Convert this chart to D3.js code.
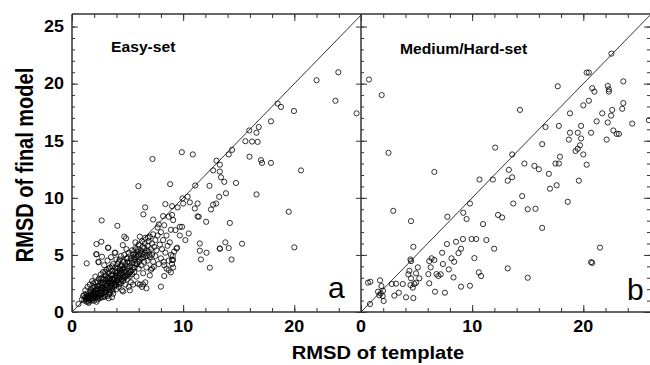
<!DOCTYPE html>
<html>
<head>
<meta charset="utf-8">
<script src="https://cdn.jsdelivr.net/npm/d3@7"></script>
<style>
  body { margin: 0; background: #fff; }
  svg { display: block; }
  text { font-family: "Liberation Sans", Arial, sans-serif; fill: #000; }
</style>
</head>
<body>
<svg id="chart" width="650" height="365"></svg>
<script>
"use strict";

// tick labels
const xTickLabels = [0, 10, 20];
const yTickLabels = [0, 5, 10, 15, 20, 25];
const panelTitles = ["Easy-set", "Medium/Hard-set"];
const panelLetters = ["a", "b"];

// [RMSD of template, RMSD of final model]
const easySet = [
  // dense cluster near the origin
  [0.58,0.7],[0.9,1.1],[1.0,1.4],[1.1,1.0],[1.1,1.5],[1.2,1.3],[1.2,1.9],[1.3,0.9],[1.3,1.6],[1.3,1.2],
  [1.4,1.2],[1.4,2.2],[1.5,1.4],[1.5,0.9],[1.5,0.8],[1.6,1.7],[1.6,1.1],[1.6,2.4],[1.7,1.3],[1.7,2.0],
  [1.8,1.5],[1.8,1.0],[1.8,2.7],[1.9,1.8],[1.9,1.2],[1.9,2.5],[2.0,1.4],[2.0,2.2],[2.0,1.0],[2.1,1.6],
  [2.1,2.6],[2.1,3.1],[2.2,1.3],[2.2,1.9],[2.2,0.9],[2.3,1.1],[2.3,2.3],[2.3,1.6],[2.4,1.4],[2.4,2.0],
  [2.4,2.9],[2.5,1.2],[2.5,1.7],
  [1.25,1.1],[1.35,1.4],[1.45,1.0],[1.55,1.25],[1.65,1.5],[1.75,1.15],[1.85,1.35],[1.95,1.6],[2.05,1.2],
  [2.15,1.45],[2.25,1.7],[2.35,1.25],[2.45,1.55],[2.55,1.9],[2.65,1.3],[2.75,1.65],[2.85,2.0],[2.95,1.35],
  [1.7,1.8],[1.9,2.1],[2.1,1.9],[2.2,2.05],[2.3,2.6],[2.5,2.35],
  [2.6,2.1],[2.6,2.6],[2.6,1.5],[2.6,3.3],[2.7,3.0],[2.7,1.9],[2.7,2.4],[2.8,1.3],[2.8,2.8],[2.8,3.5],
  [2.9,2.2],[2.9,1.7],[2.9,2.9],[2.9,4.1],[3.0,2.5],[3.0,3.2],[3.0,1.5],[3.0,2.0],[3.1,2.8],[3.1,3.7],
  [3.1,1.8],[3.2,2.3],[3.2,3.0],[3.2,1.4],[3.2,4.5],[3.3,2.6],[3.3,3.4],[3.3,2.0],[3.3,1.2],[3.4,2.9],
  [3.4,1.7],[3.4,3.9],[3.5,2.3],[3.5,3.2],[3.5,2.7],[3.5,1.9],[3.5,4.8],[3.6,3.6],[3.6,2.1],[3.6,2.9],
  [3.6,1.3],[3.7,2.5],[3.7,3.3],[3.7,4.2],[3.7,1.6],[3.8,2.8],[3.8,3.0],[3.8,2.2],[3.9,3.6],[3.9,2.6],
  [3.9,3.9],[4.0,3.1],[4.0,2.4],[4.0,2.0],[4.0,4.6],
  [2.6,2.9],[2.7,2.15],[2.8,2.55],[3.0,3.5],[3.05,1.75],[3.1,2.35],[3.15,2.1],[3.2,2.7],[3.25,2.5],
  [3.3,3.8],[3.35,1.55],[3.4,2.55],[3.45,2.15],[3.55,2.45],[3.6,3.2],[3.6,4.0],[3.65,1.85],[3.7,2.9],
  [3.75,2.75],[3.85,2.35],[3.95,3.2],[4.0,3.4],
  [4.1,2.8],[4.1,3.5],[4.1,4.2],[4.2,2.2],[4.2,3.2],[4.2,2.6],[4.3,3.8],[4.3,3.0],[4.3,4.6],[4.4,2.5],
  [4.4,3.4],[4.4,4.0],[4.4,4.9],[4.5,2.9],[4.5,3.7],[4.5,1.9],[4.6,3.2],[4.6,4.4],[4.6,2.7],[4.6,1.8],
  [4.7,3.9],[4.7,3.0],[4.7,5.0],[4.8,3.5],[4.8,2.4],[4.8,4.2],[4.9,3.2],[4.9,4.7],[4.9,5.5],[5.0,3.8],
  [5.0,2.9],[5.0,4.4],[5.1,3.4],[5.1,5.2],[5.1,2.2],[5.2,4.0],[5.2,3.1],[5.2,1.9],[5.3,4.7],[5.3,3.6],
  [5.3,2.6],[5.4,4.3],[5.4,5.4],[5.4,3.3],[5.5,3.9],[5.5,2.4],
  [4.05,2.7],[4.1,3.8],[4.15,3.0],[4.2,4.4],[4.25,2.45],[4.3,3.6],[4.35,3.3],[4.45,2.75],[4.5,4.1],
  [4.55,3.5],[4.6,3.8],[4.65,3.0],[4.75,3.7],[4.85,3.1],[4.95,4.0],[5.0,4.7],[5.05,3.3],[5.15,4.3],
  [5.25,3.5],[5.35,4.5],[5.45,3.7],[5.5,5.0],
  [5.6,4.6],[5.6,5.1],[5.6,3.5],[5.7,4.2],[5.7,5.6],[5.7,6.1],[5.8,4.8],[5.8,3.1],[5.9,5.3],[5.9,4.4],
  [5.9,2.5],[6.0,5.0],[6.0,3.8],[6.0,5.9],[6.1,4.6],[6.1,2.4],[6.1,6.6],[6.2,5.4],[6.2,4.1],[6.3,5.1],
  [6.3,6.2],[6.3,2.2],[6.4,4.8],[6.4,3.4],[6.5,5.6],[6.5,4.4],[6.6,5.2],[6.6,6.5],[6.6,2.6],[6.7,4.9],
  [6.7,3.9],[6.8,5.8],[6.8,4.5],[6.9,6.2],[6.9,5.3],[7.0,4.8],[7.0,6.6],[7.0,3.2],[7.1,5.5],[7.1,3.7],
  [7.2,6.0],[7.2,5.0],[7.3,6.8],[7.3,4.4],[7.4,5.7],[7.5,6.3],[7.5,4.9],
  [5.55,4.8],[5.65,3.9],[5.75,5.0],[5.85,4.2],[5.95,5.5],[6.05,4.4],[6.15,5.2],[6.25,4.7],[6.35,5.7],
  [6.45,5.0],[6.55,6.0],[6.75,5.4],[6.85,6.5],[6.95,5.0],
  [7.6,5.4],[7.7,6.7],[7.7,7.4],[7.8,4.2],[7.9,5.9],[8.0,7.0],[8.0,4.7],[8.1,5.5],[8.2,6.3],[8.3,4.1],
  [8.3,7.6],[8.4,5.2],[8.5,6.7],[8.5,3.8],[8.6,5.8],[8.7,4.5],[8.8,6.1],[8.9,5.0],[8.9,7.2],[9.0,4.2],
  [9.1,3.9],[9.2,5.3],
  // above the diagonal, low range
  [1.32,4.26],[2.37,4.4],[2.4,4.35],[2.2,5.07],[2.19,5.05],[2.7,4.84],[2.2,5.95],[2.64,6.15],[3.27,5.63],
  [3.24,5.63],[3.9,5.19],[3.84,5.19],[4.57,5.86],[4.7,6.6],[4.86,6.45],[2.67,8.02],[4.08,7.55],
  [6.58,9.16],[6.42,8.55],[5.97,11.02],[7.24,13.4],
  // spread-out points
  [6.4,2.42],[6.7,2.07],[7.2,3.82],[7.36,3.96],[8.0,2.22],[8.3,3.15],[8.26,4.4],[8.7,3.67],[8.9,3.47],
  [9.0,4.55],[9.07,4.9],[9.1,4.55],[9.4,5.57],[9.46,5.63],[7.3,8.1],[7.8,7.67],[8.2,8.4],[8.7,8.34],
  [9.0,8.5],[9.1,8.05],[9.3,7.17],[9.7,7.46],[9.9,7.46],[9.7,6.7],[10.2,6.3],[10.5,6.88],[8.4,9.45],
  [9.0,9.27],[9.5,9.16],[9.94,9.95],[10.0,9.5],[10.4,10.1],[10.6,9.6],[11.05,9.07],[11.3,9.5],[11.3,8.37],
  [11.4,8.34],[12.07,7.9],[12.5,8.98],[12.7,9.4],[12.97,9.5],[11.5,6.0],[11.5,5.37],[12.1,5.19],
  [11.6,4.6],[12.4,3.88],[13.3,5.57],[13.3,5.54],[13.8,6.1],[14.1,5.6],[14.35,4.6],[14.2,7.8],[15.3,5.98],
  [19.5,8.78],[20.0,5.66],[8.83,11.2],[11.08,11.08],[12.37,11.05],[13.24,10.09],[13.85,10.4],[13.7,11.4],
  [14.75,11.3],[16.6,10.3],[12.7,12.4],[13.3,12.3],[13.4,11.8],[13.0,13.25],[13.3,12.9],[9.88,14.0],
  [10.87,13.8],[14.1,13.8],[14.4,14.2],[15.97,13.6],[17.0,13.3],[17.1,13.06],[17.9,13.06],[20.6,12.4],
  [15.6,14.96],[16.2,14.93],[16.7,14.9],[15.95,15.9],[16.6,15.7],[16.8,16.2],[17.9,16.7],[18.5,18.26],
  [18.8,17.96],[19.97,17.6],[22.0,20.3],[23.96,21.0],[23.7,18.5],[25.6,17.4]
];

const hardSet = [
  [0.81,0.7],[2.04,0.96],[1.65,1.46],[1.95,1.4],[1.77,1.63],[1.53,1.78],[1.98,1.86],[1.84,2.27],
  [0.63,2.57],[0.84,2.65],[1.72,2.77],[3.0,1.43],[3.4,1.69],[2.77,2.45],[3.15,2.48],[3.76,2.45],
  [4.05,1.29],[4.71,1.22],[4.45,2.36],[4.66,2.13],[4.8,2.45],[4.95,2.57],[4.5,2.95],[5.25,2.95],
  [4.26,3.3],[4.35,3.61],[4.95,3.39],[5.11,3.91],[4.5,4.46],[4.45,4.6],[4.71,5.71],[6.14,2.51],
  [6.66,1.78],[7.55,1.69],[6.06,3.32],[6.79,3.32],[7.17,3.3],[6.96,3.15],[6.27,3.91],[6.14,4.46],
  [6.6,4.55],[6.35,4.7],[7.37,4.2],[7.9,3.73],[8.32,3.03],[8.14,4.7],[8.38,4.4],[7.3,5.19],[7.73,5.95],
  [8.77,5.16],[9.0,5.54],[8.55,6.15],[9.17,6.39],[9.95,6.39],[10.36,6.39],[11.28,6.3],[11.98,5.54],
  [10.2,4.72],[9.0,2.22],[9.8,2.3],[10.6,3.47],[10.8,3.15],[13.2,3.82],[15.0,3.0],[2.9,8.86],[4.5,7.96],
  [7.77,8.34],[9.2,8.69],[9.5,8.14],[9.8,9.5],[10.98,7.7],[12.33,8.5],[12.7,8.28],[6.6,12.27],
  [2.47,13.94],[0.72,20.36],[1.86,19.0],[10.66,11.6],[11.86,11.6],[13.2,11.5],[13.3,12.45],[13.6,11.8],
  [12.07,14.4],[13.7,9.5],[14.5,10.15],[15.0,9.0],[15.7,9.04],[16.3,7.37],[18.6,9.65],[21.5,5.64],
  [20.7,4.37],[20.8,4.3],[17.0,10.8],[17.6,11.1],[19.6,11.5],[16.9,12.1],[16.0,12.5],[15.6,12.8],
  [14.7,13.0],[13.6,13.8],[17.5,13.0],[17.8,13.0],[20.3,12.9],[17.9,13.6],[20.0,13.8],[19.3,14.1],
  [19.5,14.3],[19.7,14.6],[16.3,14.7],[18.7,15.1],[19.8,15.2],[22.1,15.1],[18.8,15.7],[19.5,15.7],
  [20.7,15.7],[22.7,15.9],[23.0,15.6],[23.2,15.6],[16.6,16.2],[17.8,16.3],[19.8,16.3],[21.2,16.7],
  [22.2,16.6],[24.4,16.5],[25.9,16.8],[18.8,17.4],[21.7,17.4],[22.5,17.2],[22.6,17.7],[14.3,17.7],
  [20.0,18.1],[20.5,18.5],[23.5,17.8],[23.6,18.3],[20.8,19.6],[21.0,19.3],[22.2,19.8],[22.3,19.5],
  [22.3,19.3],[23.6,20.2],[17.7,19.77],[20.3,20.97],[20.5,20.97],[22.53,22.63]
];

const panels = [easySet, hardSet];

const svg = d3.select("#chart");
const plotTop = 14, plotBottom = 312;
const panelLeft = [72, 361];
const panelRight = [361, 650];

const y = d3.scaleLinear().domain([0, 26.1]).range([plotBottom, plotTop]);
const xScales = panels.map((p, i) => d3.scaleLinear().domain([0, 26]).range([panelLeft[i], panelRight[i]]));

function ticks(g, axis) {
  g.call(axis);
  g.select(".domain").remove();
  g.selectAll(".tick line").attr("stroke", "#333").attr("stroke-width", 1);
  g.selectAll(".tick text").remove();
}

panels.forEach((data, i) => {
  const x = xScales[i];

  // x ticks, bottom (pointing up) and top (pointing down)
  const minorX = d3.range(0, 27, 2);
  svg.append("g").attr("transform", "translate(0," + plotBottom + ")")
    .call(ticks, d3.axisTop(x).tickValues(minorX).tickSize(4));
  svg.append("g").attr("transform", "translate(0," + plotBottom + ")")
    .call(ticks, d3.axisTop(x).tickValues(xTickLabels).tickSize(7));
  svg.append("g").attr("transform", "translate(0," + plotTop + ")")
    .call(ticks, d3.axisBottom(x).tickValues(minorX).tickSize(4));
  svg.append("g").attr("transform", "translate(0," + plotTop + ")")
    .call(ticks, d3.axisBottom(x).tickValues(xTickLabels).tickSize(7));

  // y ticks on the panel's left edge, pointing in
  svg.append("g").attr("transform", "translate(" + panelLeft[i] + ",0)")
    .call(ticks, d3.axisRight(y).tickValues(d3.range(0, 26, 1)).tickSize(3));
  svg.append("g").attr("transform", "translate(" + panelLeft[i] + ",0)")
    .call(ticks, d3.axisRight(y).tickValues(yTickLabels).tickSize(6));
  if (i === 1) {
    svg.append("g").attr("transform", "translate(" + panelLeft[i] + ",0)")
      .call(ticks, d3.axisLeft(y).tickValues(yTickLabels).tickSize(5));
  }

  // x tick labels
  svg.append("g").selectAll("text")
    .data(xTickLabels)
    .enter().append("text")
    .attr("transform", d => "translate(" + x(d) + ",332) scale(1.12,1)")
    .attr("text-anchor", "middle")
    .attr("font-size", 16)
    .attr("font-weight", "bold")
    .text(d => d);

  // diagonal y = x
  svg.append("line")
    .attr("x1", x(0)).attr("y1", y(0))
    .attr("x2", x(26)).attr("y2", y(26))
    .attr("stroke", "#000").attr("stroke-width", 0.8);

  // points
  svg.append("g").selectAll("circle")
    .data(data)
    .enter().append("circle")
    .attr("cx", d => x(d[0]))
    .attr("cy", d => y(d[1]))
    .attr("r", 2.6)
    .attr("fill", "none")
    .attr("stroke", "#000")
    .attr("stroke-width", 0.8);

  // panel title and letter
  svg.append("text")
    .attr("transform", "translate(" + (i === 0 ? 111 : 400) + "," + (i === 0 ? 52 : 54) + ") scale(1.12,1)")
    .attr("font-size", 14)
    .attr("font-weight", "bold")
    .text(panelTitles[i]);

  svg.append("text")
    .attr("x", i === 0 ? 328 : 627)
    .attr("y", i === 0 ? 298 : 300)
    .attr("font-size", 30)
    .text(panelLetters[i]);
});

// right-most edge ticks
svg.append("g").attr("transform", "translate(650,0)")
  .call(ticks, d3.axisLeft(y).tickValues(d3.range(0, 26, 1)).tickSize(3));
svg.append("g").attr("transform", "translate(650,0)")
  .call(ticks, d3.axisLeft(y).tickValues(yTickLabels).tickSize(6));

// frame
const frame = svg.append("g").attr("stroke", "#333").attr("stroke-width", 1.5).attr("fill", "none");
frame.append("line").attr("x1", 72).attr("x2", 650).attr("y1", plotTop).attr("y2", plotTop);
frame.append("line").attr("x1", 72).attr("x2", 650).attr("y1", plotBottom).attr("y2", plotBottom);
frame.append("line").attr("x1", 72).attr("x2", 72).attr("y1", plotTop).attr("y2", plotBottom);
frame.append("line").attr("x1", 361).attr("x2", 361).attr("y1", plotTop).attr("y2", plotBottom);

// y tick labels
svg.append("g").selectAll("text")
  .data(yTickLabels)
  .enter().append("text")
  .attr("transform", d => "translate(64," + y(d) + ") scale(1.12,1)")
  .attr("text-anchor", "end")
  .attr("dy", "0.36em")
  .attr("font-size", 16)
  .attr("font-weight", "bold")
  .text(d => d);

// axis titles
svg.append("text")
  .attr("transform", "translate(378,359) scale(1.12,1)")
  .attr("text-anchor", "middle")
  .attr("font-size", 18)
  .attr("font-weight", "bold")
  .text("RMSD of template");

svg.append("text")
  .attr("transform", "translate(33,165) scale(1.15,1) rotate(-90)")
  .attr("text-anchor", "middle")
  .attr("font-size", 20)
  .attr("font-weight", "bold")
  .text("RMSD of final model");
</script>
</body>
</html>
